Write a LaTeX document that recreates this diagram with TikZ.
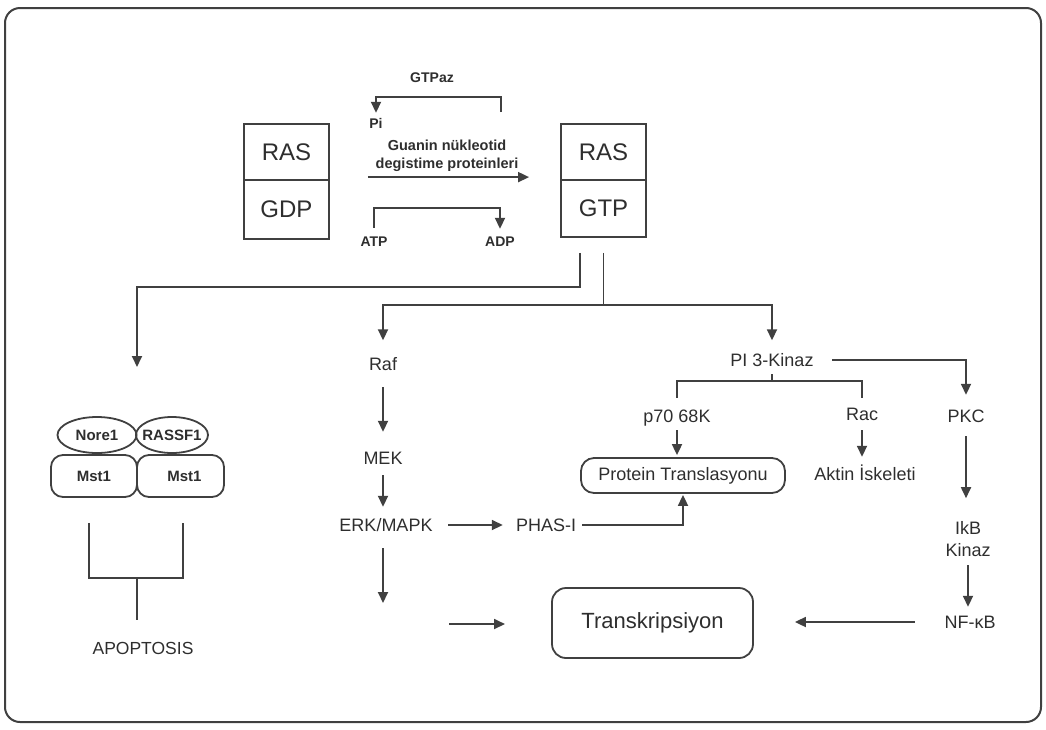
\documentclass[tikz,border=0pt]{standalone}
\usepackage{fontspec}
\setmainfont{Liberation Sans}
\usetikzlibrary{arrows.meta,calc}
\definecolor{ln}{HTML}{404040}
\definecolor{tx}{HTML}{2e2e2e}
\begin{document}
\begin{tikzpicture}[x=1pt,y=-1pt,
  line/.style={draw=ln,line width=1.8pt},
  arr/.style={line,-{Triangle[length=11pt,width=10pt]}},
  lbl/.style={text=tx,inner sep=0pt,font=\fontsize{18}{22}\selectfont,text height=13pt,text depth=0pt},
  sml/.style={text=tx,inner sep=0pt,font=\bfseries\fontsize{14}{16}\selectfont,text height=10pt,text depth=0pt},
  half/.style={draw=ln,line width=1.8pt,text=tx,minimum width=85pt,inner sep=0pt,font=\fontsize{24}{28}\selectfont},
  pill/.style={draw=ln,line width=1.8pt,text=tx,rounded corners=13pt,inner sep=0pt},
  cpx/.style={text=tx,inner sep=0pt,font=\bfseries\fontsize{15}{16}\selectfont}
]
\useasboundingbox (0,0) rectangle (1046,729);
\draw[draw=ln,line width=2pt,rounded corners=15pt] (5,8) rectangle (1041,722);

% RAS-GDP and RAS-GTP boxes
\node[half,minimum height=56pt] (ras1) at (286.5,152) {RAS};
\node[half,minimum height=59pt] (gdp) at (286.5,209.5) {GDP};
\node[half,minimum height=56pt] (ras2) at (603.5,152) {RAS};
\node[half,minimum height=57pt] (gtp) at (603.5,208.5) {GTP};

% exchange labels
\node[sml] (gtpaz) at (432,77) {GTPaz};
\node[sml] (pi) at (376,123) {Pi};
\node[text=tx,inner sep=0pt,align=center,font=\bfseries\fontsize{14.5}{18}\selectfont] (guan) at (447,156) {Guanin nükleotid\\degistime proteinleri};
\node[sml] (atp) at (374,241) {ATP};
\node[sml] (adp) at (500,241) {ADP};

\coordinate (gtpazR) at (501,112);
\draw[arr,shorten >=5pt] (gtpazR) -- ++(0,-15) -| (pi.north);
\draw[arr,shorten <=38pt,shorten >=31pt] ([yshift=2pt]gdp.north east) -- ([yshift=2pt]gtp.north west);
\draw[arr,shorten <=8pt,shorten >=7pt] (atp.north) -- ++(0,-28) -| (adp.north);

% pathway nodes
\node[lbl] (raf) at (383,364) {Raf};
\node[lbl] (mek) at (383,458) {MEK};
\node[lbl] (erk) at (386,525) {ERK/MAPK};
\node[lbl] (phas) at (546,525) {PHAS-I};
\node[lbl] (pi3k) at (772,360) {PI 3-Kinaz};
\node[lbl] (p70) at (677,416) {p70 68K};
\node[lbl] (rac) at (862,414) {Rac};
\node[lbl] (pkc) at (966,416) {PKC};
\node[lbl] (aktin) at (865,474) {Aktin İskeleti};
\node[pill,minimum width=204pt,minimum height=35pt,font=\fontsize{18}{22}\selectfont] (prot) at (683,475.5) {Protein Translasyonu};
\node[text=tx,inner sep=0pt,align=center,font=\fontsize{18}{22}\selectfont] (ikb) at (968,539) {IkB\\Kinaz};
\node[lbl] (nfkb) at (970,622) {NF-κB};
\node[pill,rounded corners=14pt,minimum width=201pt,minimum height=70pt,font=\fontsize{22}{26}\selectfont] (trans) at (652.5,623) {Transkripsiyon};

% left complex
\node[cpx] (nore) at (97,435) {Nore1};
\node[cpx] (rassf) at (172,435) {RASSF1};
\draw[line] (nore.center) ellipse [x radius=39.5pt, y radius=18pt];
\draw[line] (rassf.center) ellipse [x radius=36pt, y radius=18pt];
\node[pill,rounded corners=12pt,minimum width=86pt,minimum height=42pt,font=\bfseries\fontsize{15}{16}\selectfont] (mst1a) at (94,476) {Mst1};
\node[pill,rounded corners=12pt,minimum width=87pt,minimum height=42pt,font=\bfseries\fontsize{15}{16}\selectfont] (mst1b) at (180.5,476) {\hspace*{8pt}Mst1};
\node[text=tx,inner sep=0pt,font=\fontsize{17.5}{20}\selectfont,text height=13pt,text depth=0pt] (apo) at (143,648) {APOPTOSIS};

% connectors from RAS-GTP
\coordinate (cplx) at (137,367);
\draw[arr,shorten <=15pt] ([xshift=-23.5pt]gtp.south) -- ++(0,49) -| (cplx);
\coordinate (split) at (603.5,305);
\draw[line,shorten <=15pt] (gtp.south) -- (split);
\draw[arr,shorten >=17pt] (split) -| (raf.north);
\draw[arr,shorten >=13pt] (split) -| (pi3k.north);

% MAPK branch
\draw[arr,shorten <=16.5pt,shorten >=19.5pt] (raf.south) -- (mek.north);
\draw[arr,shorten <=10.5pt,shorten >=11.5pt] (mek.south) -- (mek.south |- erk.north);
\draw[arr,shorten <=15.5pt,shorten >=13pt] (erk.east) -- (phas.west);
\draw[arr,shorten <=6pt,shorten >=1pt] (phas.east) -| (prot.south);
\coordinate (erkdn) at (383,603);
\draw[arr,shorten <=16.5pt] (erk.south -| erkdn) -- (erkdn);
\coordinate (fa1) at (449,624);
\coordinate (fa2) at (505,624);
\draw[arr] (fa1) -- (fa2);

% PI3K branch
\coordinate (pibr) at (772,381);
\draw[line,shorten <=7.5pt] (pi3k.south) -- (pibr);
\draw[line,shorten >=11.5pt] (pibr) -| (p70.north);
\draw[line,shorten >=9.5pt] (pibr) -| (rac.north);
\draw[arr,shorten <=7.5pt,shorten >=2pt] (p70.south) -- (p70.south |- prot.north);
\draw[arr,shorten <=9.5pt,shorten >=10.5pt] (rac.south) -- (rac.south |- aktin.north);
\draw[arr,shorten <=18.5pt,shorten >=14.5pt] (pi3k.east) -| (pkc.north);
\draw[arr,shorten <=13.5pt,shorten >=23pt] (pkc.south) -- (pkc.south |- ikb.north);
\draw[arr,shorten <=8.5pt,shorten >=8.5pt] (ikb.south) -- (ikb.south |- nfkb.north);
\draw[arr,shorten <=29.5pt,shorten >=41pt] (nfkb.west) -- (nfkb.west -| trans.east);

% apoptosis bracket
\draw[line] ([xshift=-5pt,yshift=-25pt]mst1a.south) |- ([xshift=2.5pt,yshift=-80pt]mst1b.south) -- ([xshift=2.5pt,yshift=-25pt]mst1b.south);
\coordinate (brk) at (137,577);
\draw[line,shorten >=21pt] (brk) -- (brk |- apo.north);
\end{tikzpicture}
\end{document}
